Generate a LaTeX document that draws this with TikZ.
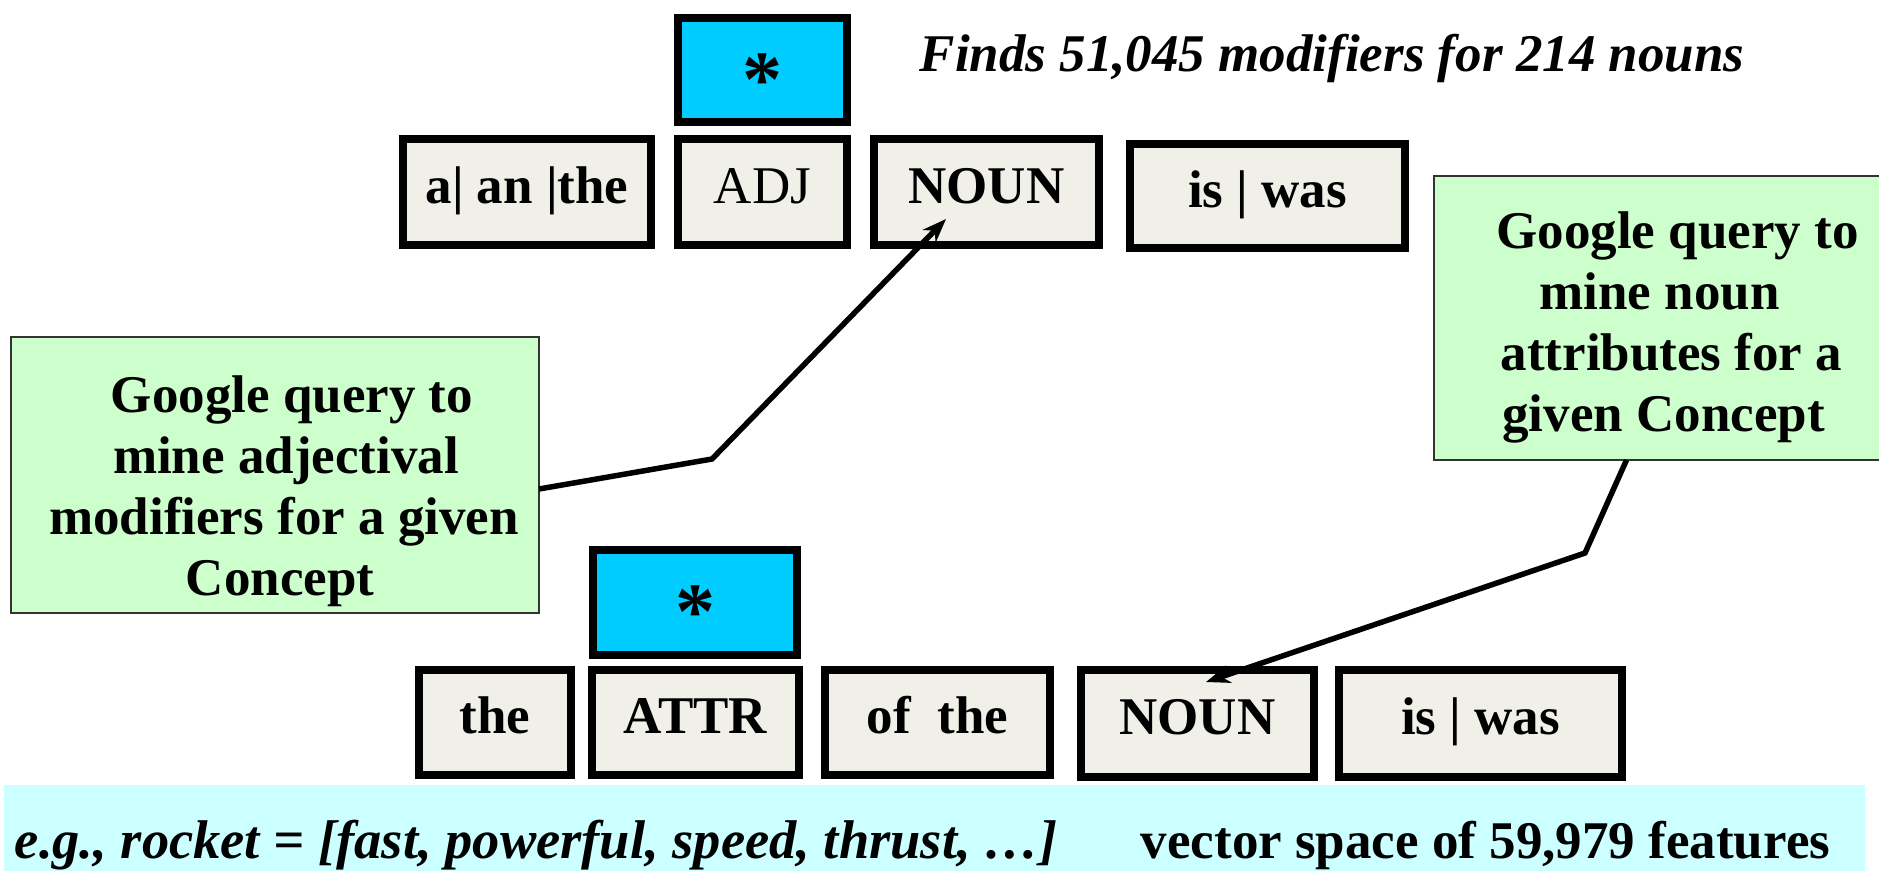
\documentclass[tikz,border=0pt]{standalone}
\usepackage{fontspec}
\setmainfont{Liberation Serif}
\usetikzlibrary{arrows.meta}
\definecolor{boxfill}{HTML}{F0F0E8}
\definecolor{greenfill}{HTML}{CCFFCC}
\definecolor{starfill}{HTML}{00CCFF}
\definecolor{bandfill}{HTML}{CCFFFF}
\tikzset{
  wordbox/.style={draw=black, line width=8pt, fill=boxfill, inner sep=0pt, outer sep=0pt,
    text height=36pt, text depth=14pt, font=\fontsize{53}{61}\selectfont},
  starbox/.style={wordbox, fill=starfill, text height=72pt, text depth=0pt,
    font=\fontsize{80}{80}\selectfont\bfseries},
  notebox/.style={draw=black!80, line width=1.2pt, fill=greenfill, inner sep=0pt, outer sep=0pt},
  notetext/.style={inner sep=0pt, align=center, font=\fontsize{53}{61}\selectfont\bfseries},
  plaintext/.style={inner sep=0pt, font=\fontsize{53}{61}\selectfont},
  conn/.style={line width=5.5pt, -{Stealth[length=24pt,width=18pt]}}
}
\begin{document}
\begin{tikzpicture}[x=1pt,y=-1pt]
\useasboundingbox (0,0) rectangle (1879,870);
% bottom band
\fill[bandfill] (4,785) rectangle (1865,875);
% top row
\node[starbox, minimum width=169, minimum height=104] (star1) at (762.5,70) {*};
\node[wordbox, minimum width=248, minimum height=106] (aan) at (527,192) {\bfseries a| an |the};
\node[wordbox, minimum width=169, minimum height=106] (adj) at (762.5,192) {ADJ};
\node[wordbox, minimum width=225, minimum height=106] (noun1) at (986.5,192) {\bfseries NOUN};
\node[wordbox, minimum width=275, minimum height=104] (iswas1) at (1267.5,196) {\bfseries is | was};
\node[plaintext] (finds) at (1332,58) {\bfseries\itshape Finds 51,045 modifiers for 214 nouns};
% bottom row
\node[starbox, minimum width=204, minimum height=105] (star2) at (695,602.5) {*};
\node[wordbox, minimum width=152, minimum height=105] (the) at (495,722.5) {\bfseries the};
\node[wordbox, minimum width=207, minimum height=105] (attr) at (695.5,722.5) {\bfseries ATTR};
\node[wordbox, minimum width=225, minimum height=105] (ofthe) at (937.5,722.5) {\bfseries of\ \ the};
\node[wordbox, minimum width=233, minimum height=107] (noun2) at (1197.5,723.5) {\bfseries NOUN};
\node[wordbox, minimum width=283, minimum height=107] (iswas2) at (1480.5,723.5) {\bfseries is | was};
% notes
\node[notebox, minimum width=528, minimum height=276] (gl) at (275,475) {};
\node[notetext] (glt) at (280,491)
  {\hspace*{24pt}Google query to\\ \hspace*{12pt}mine adjectival\\ \hspace*{8pt}modifiers for a given\\ Concept};
\node[notebox, minimum width=451, minimum height=284] (gr) at (1659.5,318) {};
\node[notetext] (grt) at (1659.5,327)
  {\hspace*{36pt}Google query to\\ mine noun\\ \hspace*{24pt}attributes for a\\ \hspace*{8pt}given Concept};
% band text
\node[plaintext, font=\fontsize{54.5}{61}\selectfont] (eg) at (536,845) {\bfseries\itshape e.g., rocket = [fast, powerful, speed, thrust, …]};
\node[plaintext] (vs) at (1485.5,845) {\bfseries vector space of 59,979 features};
% connectors
\coordinate (b1) at (712,459);
\coordinate (t1) at (946,219);
\coordinate (b2) at (1585,553);
\coordinate (t2) at (1206,682);
\draw[conn] ([yshift=-14pt]gl.east) -- (b1) -- (t1);
\draw[conn] ([xshift=-33pt]gr.south) -- (b2) -- (t2);
\end{tikzpicture}
\end{document}
